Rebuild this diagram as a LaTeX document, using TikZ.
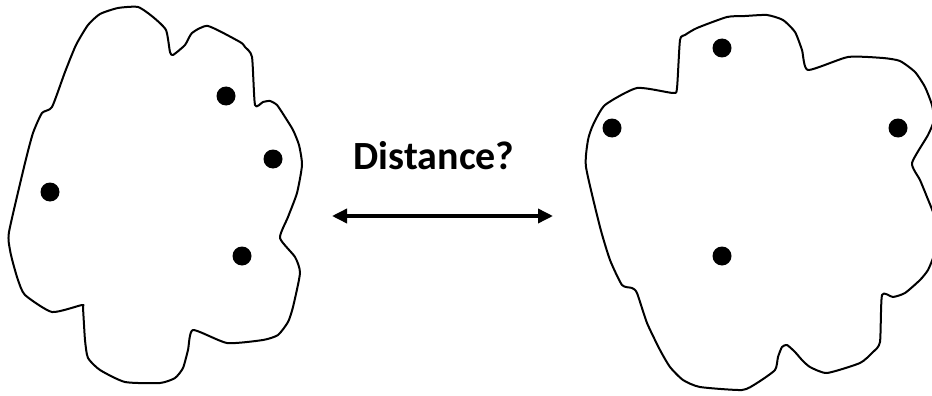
\documentclass[tikz,border=0pt]{standalone}
\usepackage{fontspec}
\setmainfont{Carlito}
\usetikzlibrary{arrows.meta}
\tikzset{
  blob/.style={draw=black, line width=2pt, line join=round},
  dot/.style={circle, fill=black, inner sep=0pt, minimum size=19pt},
  arrowline/.style={line width=3.5pt, {Triangle[length=15pt,width=14pt]}-{Triangle[length=15pt,width=14pt]}},
  label/.style={font=\fontsize{40}{48}\selectfont\bfseries, inner sep=0pt, anchor=base}
}
\begin{document}
\begin{tikzpicture}[x=1pt,y=-1pt]
\useasboundingbox (0,0) rectangle (932,396);
\clip (0,0) rectangle (932,396);
% left blob
\draw[blob] plot[smooth cycle, tension=0.35] coordinates {
(138,7) (118,8) (100,14) (88,25) (76,45) (65,72) (52,107) (42,113) (33,133) (25,163)
(9,232) (10,250) (13,263) (18,280) (25,295) (52,312) (82,305) (83,308) (85,340) (88,358)
(100,370) (125,382) (160,383) (175,378) (183,368) (188,350) (193,330) (227,343) (263,340)
(278,335) (288,322) (293,307) (300,273) (295,257) (280,238) (288,217) (297,193) (302,165)
(299,145) (293,130) (285,117) (277,105) (270,101) (263,102) (255,105) (252,57) (245,47)
(240,42) (208,26) (192,33) (185,45) (173,55) (170,52) (166,30) (153,17)};
% right blob
\draw[blob] plot[smooth cycle, tension=0.35] coordinates {
(697,28) (727,17) (745,16) (767,15) (783,20) (795,32) (802,50) (808,70) (848,57) (883,58)
(900,61) (915,72) (925,87) (932,105) (934,120) (928,135) (912,163) (920,180) (927,197)
(934,215) (937,235) (934,255) (928,270) (920,280) (905,293) (893,297) (882,295) (880,342)
(873,352) (860,363) (827,373) (810,367) (802,360) (795,352) (787,345) (782,347) (778,357)
(775,370) (757,383) (742,390) (700,387) (683,380) (670,367) (660,350) (647,323) (637,293)
(632,288) (622,285) (610,260) (600,227) (586,167) (588,140) (593,125) (605,105) (637,88)
(673,93) (677,88) (680,40) (685,35)};
% points
\node[dot] (l1) at (226,96) {};
\node[dot] (l2) at (273,159) {};
\node[dot] (l3) at (50,192) {};
\node[dot] (l4) at (242,256) {};
\node[dot] (r1) at (722,48) {};
\node[dot] (r2) at (612,128) {};
\node[dot] (r3) at (898,128) {};
\node[dot] (r4) at (722,256) {};
% label and arrow
\node[label] (dist) at (434,169) {Distance?};
\coordinate (aL) at (332,216);
\coordinate (aR) at (553,216);
\draw[arrowline] (aL) -- (aR);
\end{tikzpicture}
\end{document}
